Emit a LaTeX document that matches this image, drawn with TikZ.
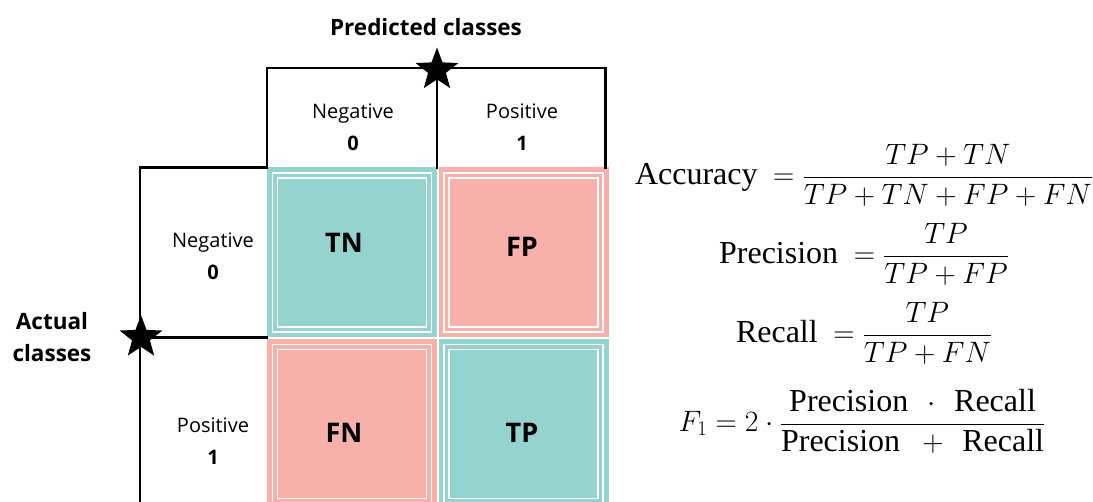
\documentclass[tikz,border=0pt]{standalone}
\usepackage{fix-cm}
\usepackage{amsmath}
\usepackage{fontspec}
\setmainfont{Liberation Serif}
\newfontfamily\labelfont{Open Sans}
\usepackage{tikz}
\usetikzlibrary{positioning, shapes.geometric}

\definecolor{tealcell}{HTML}{94D3CE}
\definecolor{salmoncell}{HTML}{F7B0AA}

\newcommand{\word}[1]{\text{\fontsize{32}{38}\selectfont #1}}

\begin{document}
\begin{tikzpicture}[
    x=1pt, y=1pt,
    node distance=1.5pt,
    cell/.style={
        rectangle,
        inner sep=0pt,
        outer sep=0pt,
        minimum width=170pt,
        minimum height=170pt,
        path picture={
            \foreach \gap in {5.5,10.5}
                \draw[white, line width=1.6pt]
                    ([shift={(\gap,\gap)}]path picture bounding box.south west) rectangle
                    ([shift={(-\gap,-\gap)}]path picture bounding box.north east);
        }
    },
    cellname/.style={inner sep=0pt, font=\labelfont\fontsize{27}{30}\selectfont\bfseries},
    head/.style={align=center, font=\labelfont\fontsize{20}{32}\selectfont},
    title/.style={align=center, font=\labelfont\fontsize{22.5}{32}\selectfont\bfseries},
    frame/.style={line width=2.4pt, line cap=rect},
    marker/.style={star, star points=5, star point ratio=2.4,
        fill=black, minimum size=45pt, inner sep=0pt},
    formula/.style={anchor=base, font=\fontsize{29.5}{36}\selectfont}
]
\useasboundingbox (0,0) rectangle (1093,502);

% Confusion matrix cells
\node[cell, fill=tealcell] (tn) at (352,249.5) {};
\node[cell, fill=salmoncell, right=of tn] (fp) {};
\node[cell, fill=salmoncell, below=of tn] (fn) {};
\node[cell, fill=tealcell, right=of fn] (tp) {};

\node[cellname] (tntext) at ([shift={(-8,9.5)}]tn.center) {TN};
\node[cellname] (fptext) at ([shift={(-1.5,5.5)}]fp.center) {FP};
\node[cellname] (fntext) at ([shift={(-8,-8.5)}]fn.center) {FN};
\node[cellname] (tptext) at ([shift={(-1.5,-8.5)}]tp.center) {TP};

% Header frame
\coordinate (topline) at (0,434);
\draw[frame] (tn.north west) -- (tn.north west |- topline) -- ([xshift=-3pt]fp.north east |- topline) -- ([xshift=-3pt]fp.north east);
\draw[frame] (tn.north east) -- (tn.north east |- topline);
\draw[frame] (tn.north west) -- ++(-127,0) coordinate (corner) -- ++(0,-345);
\draw[frame] (tn.south west) -- (tn.south west -| corner);

% Stars
\node[marker, yshift=-2pt] (predstar) at (tn.north east |- topline) {};
\node[marker, xshift=1pt] (actstar) at (corner |- tn.south west) {};

% Class labels
\node[title] (predicted) at (426,474.5) {Predicted classes};
\node[title] (actual) at (52,165) {Actual\\classes};
\node[head] (predneg) at (353,375) {Negative\\\textbf{0}};
\node[head] (predpos) at (522,375) {Positive\\\textbf{1}};
\node[head] (actneg) at (213,245.5) {Negative\\\textbf{0}};
\node[head] (actpos) at (213,60.5) {Positive\\\textbf{1}};

% Metrics
\node[formula] (acc) at (864,317.6) {$\word{Accuracy}\ = \dfrac{TP+TN}{TP+TN+FP+FN}$};
\node[formula] (prec) at (864,238.6) {$\word{Precision}\ = \dfrac{TP}{TP+FP}$};
\node[formula] (rec) at (864,159.6) {$\word{Recall}\ = \dfrac{TP}{TP+FN}$};
\node[formula] (fone) at (862,70.6) {$F_1 = 2\cdot\dfrac{\word{Precision}\,\ \cdot\ \,\word{Recall}}{\word{Precision}\;\ +\ \,\word{Recall}}$};

\end{tikzpicture}
\end{document}
